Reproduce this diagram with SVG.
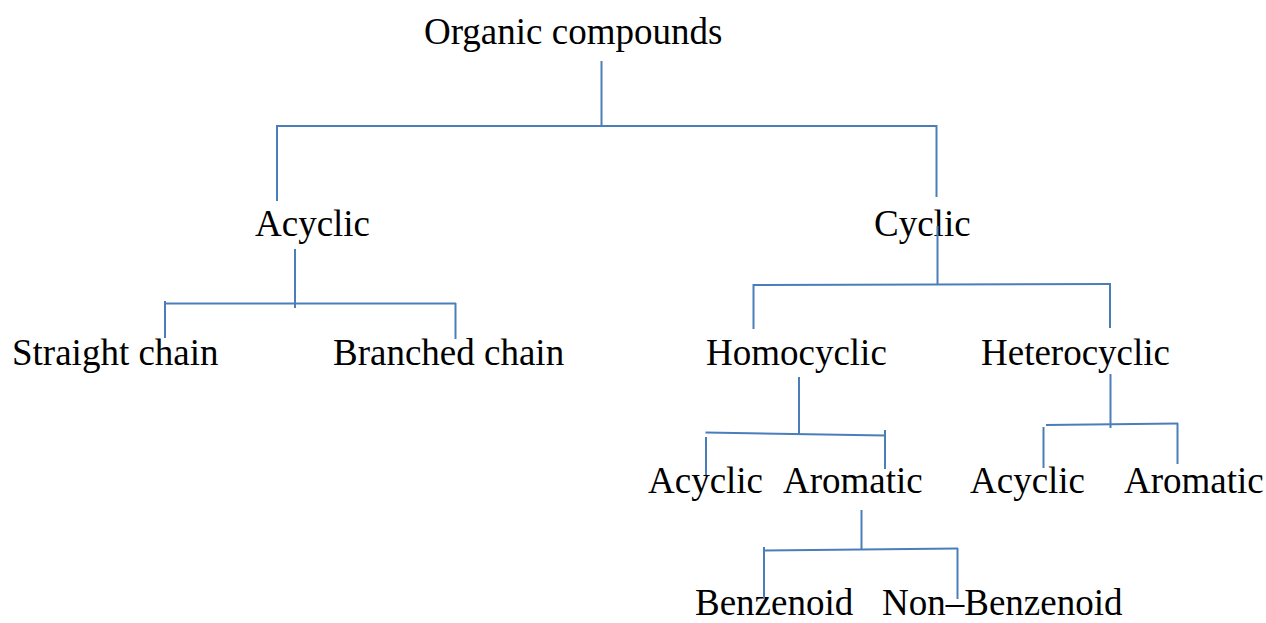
<svg xmlns="http://www.w3.org/2000/svg" width="1266" height="623" viewBox="0 0 1266 623">
<style>
.t{font-family:"Liberation Serif","Times New Roman",serif;font-size:37px;fill:#000}
.c line{stroke:#4A7EBB;stroke-width:2;stroke-linecap:butt}
</style>
<rect width="1266" height="623" fill="#fff"/>
<g id="n-organic"><text class="t" x="424" y="44">Organic compounds</text></g>
<g id="n-acyclic"><text class="t" x="255" y="236">Acyclic</text></g>
<g id="n-cyclic"><text class="t" x="874" y="236">Cyclic</text></g>
<g id="n-straight"><text class="t" x="12" y="365">Straight chain</text></g>
<g id="n-branched"><text class="t" x="333" y="365">Branched chain</text></g>
<g id="n-homocyclic"><text class="t" x="706" y="365">Homocyclic</text></g>
<g id="n-heterocyclic"><text class="t" x="981" y="365">Heterocyclic</text></g>
<g id="n-homo-acyclic"><text class="t" x="648" y="493">Acyclic</text></g>
<g id="n-homo-aromatic"><text class="t" x="783" y="493">Aromatic</text></g>
<g id="n-hetero-acyclic"><text class="t" x="970" y="493">Acyclic</text></g>
<g id="n-hetero-aromatic"><text class="t" x="1124" y="493">Aromatic</text></g>
<g id="n-benzenoid"><text class="t" x="695" y="615">Benzenoid</text></g>
<g id="n-nonbenzenoid"><text class="t" x="882" y="615">Non–Benzenoid</text></g>
<g id="connectors" class="c">
<line x1="601.5" y1="61" x2="601.5" y2="126"/>
<line x1="277" y1="126" x2="937" y2="126"/>
<line x1="277" y1="125" x2="277" y2="201"/>
<line x1="936.5" y1="125" x2="936.5" y2="197"/>
<line x1="295" y1="249" x2="295" y2="308"/>
<line x1="165" y1="303.5" x2="456" y2="303.5"/>
<line x1="165" y1="301" x2="165" y2="338"/>
<line x1="455.5" y1="303" x2="455.5" y2="339"/>
<line x1="937.5" y1="226" x2="937.5" y2="285"/>
<line x1="753.5" y1="285" x2="1110" y2="284"/>
<line x1="753.5" y1="284" x2="753.5" y2="329"/>
<line x1="1110" y1="283" x2="1110" y2="328"/>
<line x1="799" y1="377" x2="799" y2="434"/>
<line x1="705.5" y1="432.5" x2="885" y2="435.5"/>
<line x1="706" y1="437" x2="706" y2="475"/>
<line x1="885" y1="430" x2="885" y2="469"/>
<line x1="1110.5" y1="374" x2="1110.5" y2="428"/>
<line x1="1046" y1="425" x2="1178" y2="423.5"/>
<line x1="1043.5" y1="427" x2="1043.5" y2="468"/>
<line x1="1177.5" y1="423" x2="1177.5" y2="464"/>
<line x1="861.5" y1="510" x2="861.5" y2="549"/>
<line x1="764" y1="550.5" x2="958" y2="548.5"/>
<line x1="764" y1="547" x2="764" y2="599"/>
<line x1="957.5" y1="548" x2="957.5" y2="599"/>
</g>
</svg>
